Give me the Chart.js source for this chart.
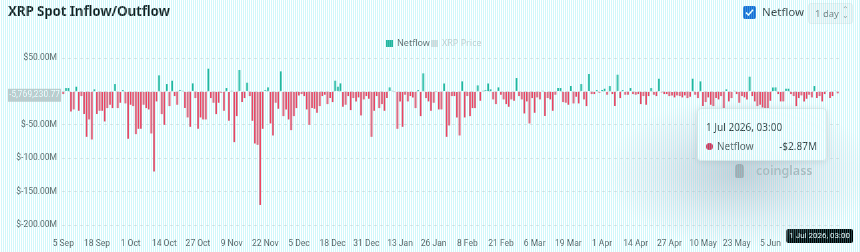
<!DOCTYPE html>
<html>
<head>
<meta charset="utf-8">
<script src="https://cdn.jsdelivr.net/npm/chart.js@4.4.1/dist/chart.umd.min.js"></script>
<style>
    body { margin: 0; width: 860px; height: 252px; overflow: hidden; background: #fff; font-family: "Noto Sans", sans-serif; }
    #wrap { position: relative; width: 860px; height: 252px; }
    #c { position: absolute; left: 0; top: 0; }
    .title { position: absolute; left: 8px; top: 2px; font-size: 13.5px; font-weight: 700; color: #1b1b1b; letter-spacing: -0.2px; }
    .chk { position: absolute; left: 743px; top: 6px; width: 13px; height: 13px; background: #1a6ad4; border-radius: 2px; }
    .chk svg { position: absolute; left: 2px; top: 2px; }
    .chklbl { position: absolute; left: 762px; top: 4px; font-size: 11.5px; color: #333; }
    .sel { position: absolute; left: 808px; top: 3px; width: 43px; height: 19px; border: 1px solid #eee; background: #f7f7f7; border-radius: 3px; font-size: 9.5px; color: #777; }
    .sel span { position: absolute; left: 6px; top: 3px; }
    .sel i { position: absolute; left: 33px; top: 2px; font-style: normal; font-size: 8px; line-height: 6px; color: #999; }
    .legend { position: absolute; top: 36px; font-size: 9px; color: #666; }
    .legend b { display: inline-block; width: 7px; height: 7px; margin-right: 4px; vertical-align: -0.5px; }
    .blob { position: absolute; left: 605px; top: 98px; width: 270px; height: 150px;
        background: radial-gradient(ellipse closest-side, rgba(165,165,180,0.55), rgba(195,195,210,0.28) 60%, rgba(255,255,255,0) 100%); }
    .mark { position: absolute; left: 735px; top: 162px; font-size: 12.5px; font-weight: 600; color: #b4b4b8; }
    .mark b { display: inline-block; width: 9px; height: 14px; background: #a8a8ae; border-radius: 4px 4px 2px 2px; margin-right: 12px; vertical-align: -3px; }
    .tip { position: absolute; left: 697px; top: 108px; width: 128px; height: 51px; background: rgba(255,255,255,0.92);
        border: 1px solid #e8e8e8; border-radius: 4px; box-shadow: 0 1px 6px rgba(0,0,0,0.12); font-size: 10px; color: #333; }
    .tip .d { position: absolute; left: 8px; top: 11px; }
    .tip .dot { position: absolute; left: 8px; top: 34px; width: 7px; height: 7px; border-radius: 50%; background: #d63357; }
    .tip .n { position: absolute; left: 19px; top: 30px; color: #555; }
    .tip .v { position: absolute; right: 9px; top: 30px; }
    .stripes { position: absolute; left: 0; top: 0; width: 860px; height: 252px; pointer-events: none;
        background: repeating-linear-gradient(90deg, rgba(255,255,255,0) 0 1px, rgba(110,230,240,0.32) 1px 2px); }
</style>
</head>
<body>
<div id="wrap">
    <canvas id="c" width="860" height="252"></canvas>
    <div class="title">XRP Spot Inflow/Outflow</div>
    <div class="chk"><svg width="9" height="9" viewBox="0 0 9 9"><path d="M1 4.6 L3.5 7 L8 1.8" stroke="#fff" stroke-width="1.5" fill="none"/></svg></div>
    <div class="chklbl">Netflow</div>
    <div class="sel"><span>1 day</span><i>&#8963;<br>&#8964;</i></div>
    <div class="legend" style="left:386px"><b style="background:#26b39a"></b>Netflow</div>
    <div class="legend" style="left:431px;color:#ccc"><b style="background:#ddd"></b>XRP Price</div>
    <div class="blob"></div>
    <div class="mark"><b></b>coinglass</div>
    <div class="tip">
        <div class="d" id="tipDate"></div>
        <div class="dot"></div>
        <div class="n">Netflow</div>
        <div class="v" id="tipVal"></div>
    </div>
    <div class="stripes"></div>
</div>
<script>
// daily netflow in $M, 5 Sep 2025 .. 1 Jul 2026
const netflow = [
    -4, 5, 5, -30, -27, 7, -29, -7, -34, -68,
    -42, -72, 3, -34, -29, -29, -45, -25, -20, -25,
    11, -25, -17, 2, -18, -71, -20, -22, -64, -56,
    -56, -20, -25, -27, -63, -120,
    -15, 24, -34, -50, 11, -22, 16, -7, -20, 2,
    1, -25, -39, -53, 12, -10, -56, -39, -42, -42,
    34, -10, -17, -34, -17, -2, -29, 5, -44, 1,
    -76, -37, 32, -16, -10, 13, -7, -44,
    -78, -80, -170, -56,
    2, 6, -48, -66, -17, -26, 30, -37, -27, -42,
    -58, -37, -25, -6, -4, -7, -27, -50, -25, -26,
    -32, -22, -7, -5, -19, -10, -16, 16, 7, 12,
    -23, -20, -7, -28, -10, -15, -9, -36, -12, -7,
    -11, -68, -29, -7, -25, -19, -29, -10, 6, 1,
    -1, -56, -15, -53, -5, -15, -7, -9, -25, 2,
    -37, 27, -10, -15, -29, -17, -1, -27, -27, 12,
    -68,
    -51, -7, -7, -39, -66, 15, -39, -7, -37, -25,
    -25, 9, -14, 1, 2, 12, 3, -12, -19, 6,
    -5, -12, -19, -23, -12, -14, 20, -7, -12, -33,
    -15, -48, -10, -32, -9, -12, 1, -37, -10, -12,
    -29, -5, 5, 5, -16, -17, -20, 8, -18, -8,
    -18, 11, -12, -22, 26, -4, -4, 2, -2, 2,
    4, -5, 8, -4, -22, 25, -10, 2, -5, -5,
    5, -4, -5, -4, -19,
    -7, -20, -7, 5, -5, -7, 19, -1.5, -4, -4,
    -7, -6, -9, -6, -7, -9, -6, -10, -8, 19,
    -5, -10, 15, -22, -16, -9, -20, -22, -10, -12,
    -7, -25, 3, -15, -10, 1, -4, -17, -7, -9,
    -12, 22, -7, -15, -22, -20, -24, -25, -25, -14,
    6, 6, -4, -15, -15, 4, 4, -4, -7, -22,
    -10, -6, -15, -11, -5, -9, 8, -10, -7, -15,
    -4, 1, -10, -7, 1, -2.87
];
const tickLabels = ['5 Sep', '18 Sep', '1 Oct', '14 Oct', '27 Oct', '9 Nov', '22 Nov', '5 Dec', '18 Dec', '31 Dec',
    '13 Jan', '26 Jan', '8 Feb', '21 Feb', '6 Mar', '19 Mar', '1 Apr', '14 Apr', '27 Apr', '10 May', '23 May', '5 Jun'];
const yTicks = [50, 0, -50, -100, -150, -200];
const lastLabel = '1 Jul 2026, 03:00';
const crossValue = -5.76923077; // y crosshair, $M
const crossText = '-5,769,230.77';

const months = ['Jan', 'Feb', 'Mar', 'Apr', 'May', 'Jun', 'Jul', 'Aug', 'Sep', 'Oct', 'Nov', 'Dec'];
const dates = [];
for (let i = 0; i < netflow.length; i++) {
    const d = new Date(Date.UTC(2025, 8, 5 + i));
    dates.push(d.getUTCDate() + ' ' + months[d.getUTCMonth()]);
}

const posColor = '#25b59a';
const negColor = '#f2425f';

document.getElementById('tipDate').textContent = lastLabel;
const last = netflow[netflow.length - 1];
document.getElementById('tipVal').textContent = (last < 0 ? '-' : '') + '$' + Math.abs(last).toFixed(2) + 'M';

// grey crosshair label on y axis + black label under the last bar
const markers = {
    id: 'markers',
    afterDraw(chart) {
        const ctx = chart.ctx;
        const y = chart.scales.y.getPixelForValue(crossValue);
        ctx.save();
        ctx.fillStyle = '#c9c9c9';
        ctx.fillRect(8, y - 6.5, 53, 13);
        ctx.fillStyle = '#fff';
        ctx.font = '8.5px Roboto';
        ctx.textAlign = 'center';
        ctx.textBaseline = 'middle';
        ctx.fillText(crossText, 34.5, y);

        const x = chart.scales.x.getPixelForValue(netflow.length - 1);
        ctx.font = '8px Roboto';
        const w = ctx.measureText(lastLabel).width + 6;
        const bx = Math.min(x - w / 2, chart.width - 7 - w);
        ctx.fillStyle = '#000';
        ctx.beginPath();
        ctx.roundRect(bx, chart.chartArea.bottom + 4, w, 14, 2);
        ctx.fill();
        ctx.fillStyle = '#fff';
        ctx.fillText(lastLabel, bx + w / 2, chart.chartArea.bottom + 11);
        ctx.restore();
    }
};

new Chart(document.getElementById('c'), {
    type: 'bar',
    data: {
        labels: dates,
        datasets: [{
            label: 'Netflow',
            data: netflow,
            backgroundColor: netflow.map(v => v >= 0 ? posColor : negColor),
            barPercentage: 0.72,
            categoryPercentage: 1
        }]
    },
    options: {
        responsive: false,
        animation: false,
        layout: { padding: { top: 58, right: 21, left: 0, bottom: 0 } },
        plugins: { legend: { display: false }, tooltip: { enabled: false } },
        scales: {
            x: {
                grid: { display: false },
                border: { display: false },
                ticks: {
                    autoSkip: false, maxRotation: 0, padding: 6, color: '#555',
                    font: { family: 'Roboto', size: 8.5 },
                    callback: (v, i) => tickLabels.includes(dates[i]) && i < 280 ? dates[i] : ''
                },
                afterFit: (s) => { s.height = 27; }
            },
            y: {
                min: -200, max: 50,
                afterBuildTicks: (s) => { s.ticks = yTicks.map(v => ({ value: v })); },
                grid: { color: '#e4e4e4', drawTicks: false },
                border: { display: false, dash: [3, 3] },
                ticks: {
                    padding: 5, color: '#555',
                    font: { family: 'Roboto', size: 8.5 },
                    callback: (v) => v === 0 ? '' : '$' + v.toFixed(2) + 'M'
                },
                afterFit: (s) => { s.width = 62; }
            }
        }
    },
    plugins: [markers]
});
</script>
</body>
</html>
